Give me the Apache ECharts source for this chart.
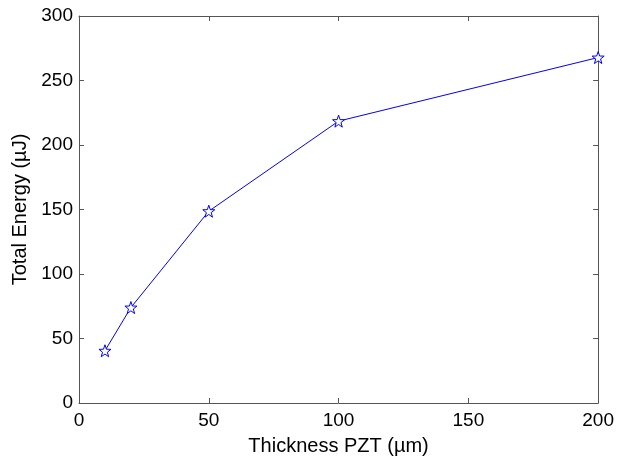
<!DOCTYPE html>
<html>
<head>
<meta charset="utf-8">
<script src="https://cdn.jsdelivr.net/npm/echarts@6/dist/echarts.min.js"></script>
<style>
  html, body { margin: 0; padding: 0; background: #fff; }
  #chart { width: 617px; height: 461px; }
</style>
</head>
<body>
<div id="chart"></div>
<script>
// PZT layer thickness (µm) and the total harvested energy (µJ)
const thickness = [10, 20, 50, 100, 200];
const totalEnergy = [40.5, 74, 148.7, 218.5, 267.8];
const xTicks = [0, 50, 100, 150, 200];
const yTicks = [0, 50, 100, 150, 200, 250, 300];

// Outline of a five-pointed star for the markers
function starPath() {
  const pts = [];
  for (let i = 0; i < 10; i++) {
    const r = i % 2 === 0 ? 1 : 0.4;
    const a = -Math.PI / 2 + i * Math.PI / 5;
    pts.push((r * Math.cos(a)).toFixed(4) + ',' + (r * Math.sin(a)).toFixed(4));
  }
  return 'path://M' + pts.join('L') + 'Z';
}

const axisColor = '#555';
const font = 'Liberation Sans, Arial, sans-serif';
const baseAxis = {
  axisLine: { show: true, onZero: false, lineStyle: { color: axisColor, width: 1 } },
  axisTick: { show: true, inside: true, length: 5, lineStyle: { color: axisColor } },
  splitLine: { show: false },
};

const chart = echarts.init(document.getElementById('chart'));
chart.setOption({
  animation: false,
  backgroundColor: '#fff',
  grid: { left: 79, right: 16, top: 16, bottom: 52, containLabel: false },
  xAxis: [
    Object.assign({}, baseAxis, {
      type: 'value', min: xTicks[0], max: xTicks[xTicks.length - 1], interval: 50,
      position: 'bottom',
      name: 'Thickness PZT (µm)', nameLocation: 'middle', nameGap: 33,
      nameTextStyle: { color: '#000', fontSize: 20, fontFamily: font },
      axisLabel: { color: '#000', fontSize: 19, fontFamily: font, margin: 8 },
    }),
    // box edge along the top, ticks only
    Object.assign({}, baseAxis, {
      type: 'value', min: xTicks[0], max: xTicks[xTicks.length - 1], interval: 50,
      position: 'top', axisLabel: { show: false },
    }),
  ],
  yAxis: [
    Object.assign({}, baseAxis, {
      type: 'value', min: yTicks[0], max: yTicks[yTicks.length - 1], interval: 50,
      position: 'left',
      name: 'Total Energy (µJ)', nameLocation: 'middle', nameGap: 47,
      nameTextStyle: { color: '#000', fontSize: 20, fontFamily: font },
      axisLabel: { color: '#000', fontSize: 19, fontFamily: font, margin: 6 },
    }),
    // box edge along the right, ticks only
    Object.assign({}, baseAxis, {
      type: 'value', min: yTicks[0], max: yTicks[yTicks.length - 1], interval: 50,
      position: 'right', axisLabel: { show: false },
    }),
  ],
  series: [{
    type: 'line',
    data: thickness.map((t, i) => [t, totalEnergy[i]]),
    xAxisIndex: 0,
    yAxisIndex: 0,
    lineStyle: { color: '#0000ff', width: 1 },
    symbol: starPath(),
    symbolSize: 12,
    itemStyle: { color: '#fff', borderColor: '#0000ff', borderWidth: 1 },
    showSymbol: true,
  }],
});
</script>
</body>
</html>
